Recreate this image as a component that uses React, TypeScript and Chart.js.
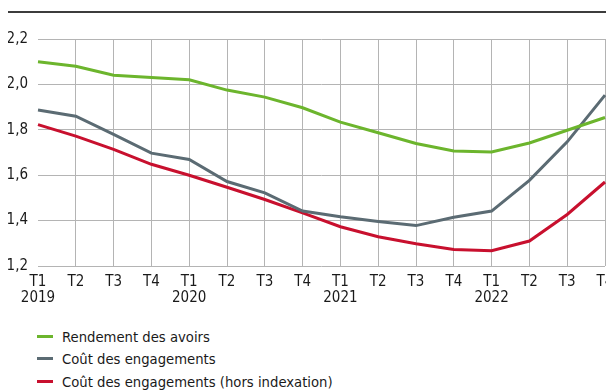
import React, { useEffect, useRef } from "react";
import { Chart, registerables } from "chart.js";

Chart.register(...registerables);

const quarters = ["T1", "T2", "T3", "T4", "T1", "T2", "T3", "T4", "T1", "T2", "T3", "T4", "T1", "T2", "T3", "T4"];
const years = ["2019", "", "", "", "2020", "", "", "", "2021", "", "", "", "2022", "", "", ""];

const rendementAvoirs = [2.10, 2.08, 2.04, 2.03, 2.02, 1.975, 1.944, 1.897, 1.834, 1.787, 1.74, 1.707, 1.702, 1.742, 1.798, 1.854];
const coutEngagements = [1.887, 1.86, 1.78, 1.697, 1.669, 1.572, 1.522, 1.442, 1.417, 1.396, 1.378, 1.415, 1.442, 1.577, 1.747, 1.953];
const coutHorsIndexation = [1.823, 1.772, 1.714, 1.648, 1.60, 1.547, 1.493, 1.434, 1.373, 1.329, 1.298, 1.273, 1.267, 1.31, 1.427, 1.57];

const seriesNames = ["Rendement des avoirs", "Coût des engagements", "Coût des engagements (hors indexation)"];
const seriesColors = ["#6cb52d", "#5b6b73", "#c8102e"];

const FONT = "'DejaVu Sans Condensed', 'Liberation Sans', sans-serif";

export default function App() {
  const ref = useRef<HTMLCanvasElement | null>(null);

  useEffect(() => {
    if (!ref.current) return;
    const labels = quarters.map((q, i) => [q, years[i]]);
    const chart = new Chart(ref.current, {
      type: "line",
      data: {
        labels,
        datasets: [rendementAvoirs, coutEngagements, coutHorsIndexation].map((d, i) => ({
          label: seriesNames[i],
          data: d,
          borderColor: seriesColors[i],
          backgroundColor: seriesColors[i],
          borderWidth: 3,
          pointRadius: 0,
          tension: 0,
          fill: false,
        })),
      },
      options: {
        animation: false,
        responsive: false,
        maintainAspectRatio: false,
        layout: { padding: { left: 8, right: 35, top: 39, bottom: 0 } },
        plugins: { legend: { display: false }, tooltip: { enabled: false }, title: { display: false } },
        scales: {
          x: {
            offset: false,
            border: { display: false },
            afterFit: (s: any) => {
              s.height = 54;
            },
            grid: {
              color: (ctx: any) => (ctx.index === 0 ? "rgba(0,0,0,0)" : "#b4b4b4"),
              lineWidth: 1,
              drawTicks: false,
            },
            ticks: {
              color: "#1a1a1a",
              font: { family: FONT, size: 15, lineHeight: 1.05 },
              padding: 8,
              maxRotation: 0,
              autoSkip: false,
            },
          },
          y: {
            min: 1.2,
            max: 2.2,
            border: { display: false },
            afterFit: (s: any) => {
              s.width = 30;
            },
            grid: { color: "#b4b4b4", lineWidth: 1, drawTicks: false },
            ticks: {
              stepSize: 0.2,
              color: "#1a1a1a",
              padding: 10,
              font: { family: FONT, size: 15 },
              callback: (v: any) => Number(v).toFixed(1).replace(".", ","),
            },
          },
        },
      },
    });
    return () => chart.destroy();
  }, []);

  return (
    <div style={{ position: "fixed", left: 0, top: 0, width: 606, height: 391, overflow: "hidden", background: "#fff", fontFamily: FONT }}>
      <canvas ref={ref} width={640} height={320} style={{ position: "absolute", left: 0, top: 0, width: 640, height: 320 }} />
      <div style={{ position: "absolute", left: 8, top: 11, width: 620, height: 2, background: "#3c3c3c" }} />
      <div style={{ position: "absolute", left: 37, top: 325 }}>
        {seriesNames.map((n, i) => (
          <div key={n} style={{ display: "flex", alignItems: "center", height: 22.5, fontSize: 14.7, color: "#1a1a1a", whiteSpace: "nowrap" }}>
            <span style={{ display: "inline-block", width: 16, height: 3, background: seriesColors[i], marginRight: 9 }} />
            <span>{n}</span>
          </div>
        ))}
      </div>
    </div>
  );
}
